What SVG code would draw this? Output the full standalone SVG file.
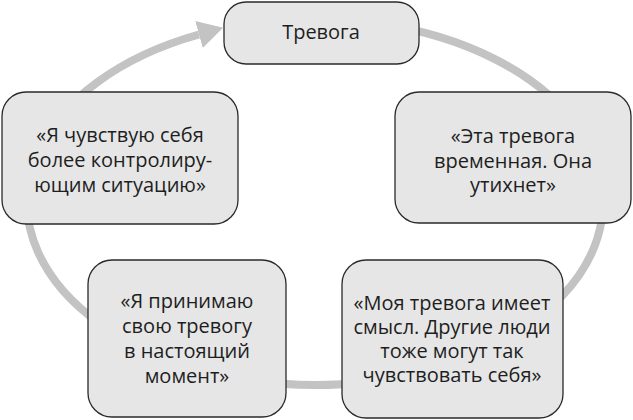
<svg xmlns="http://www.w3.org/2000/svg" width="633" height="420" viewBox="0 0 633 420">
<defs>
<style>
.box{fill:#e6e6e6;stroke:#2a2a2a;stroke-width:1.3}
.t{font-family:"Open Sans","Noto Sans","Liberation Sans",sans-serif;font-size:20px;fill:#1e1e1e;text-anchor:middle}
.ring{fill:none;stroke:#c3c3c3;stroke-width:8}
</style>
<marker id="ah" markerUnits="userSpaceOnUse" markerWidth="28" markerHeight="30" refX="0" refY="14" orient="auto">
<path d="M0,0 L25,14 L0,28 Z" fill="#c3c3c3"/>
</marker>
</defs>
<g id="connectors">
<path class="ring" d="M 380 23.7 A 288 183 0 1 1 199 34.5" marker-end="url(#ah)"/>
</g>
<g id="n1">
<rect class="box" x="224" y="2" width="195" height="62" rx="22"/>
<text class="t" x="321" y="39">Тревога</text>
</g>
<g id="n2">
<rect class="box" x="395" y="92" width="236" height="131" rx="24"/>
<text class="t" x="513" y="143">«Эта тревога</text>
<text class="t" x="513" y="168">временная. Она</text>
<text class="t" x="513" y="192">утихнет»</text>
</g>
<g id="n3">
<rect class="box" x="342" y="260" width="221" height="158" rx="24"/>
<text class="t" x="452" y="310">«Моя тревога имеет</text>
<text class="t" x="452" y="334">смысл. Другие люди</text>
<text class="t" x="452" y="358">тоже могут так</text>
<text class="t" x="452" y="382">чувствовать себя»</text>
</g>
<g id="n4">
<rect class="box" x="88" y="260" width="198" height="157" rx="24"/>
<text class="t" x="187" y="308">«Я принимаю</text>
<text class="t" x="187" y="333">свою тревогу</text>
<text class="t" x="187" y="358">в настоящий</text>
<text class="t" x="187" y="383">момент»</text>
</g>
<g id="n5">
<rect class="box" x="2" y="92" width="236" height="132" rx="24"/>
<text class="t" x="120" y="142">«Я чувствую себя</text>
<text class="t" x="120" y="167">более контролиру-</text>
<text class="t" x="120" y="192">ющим ситуацию»</text>
</g>
</svg>
